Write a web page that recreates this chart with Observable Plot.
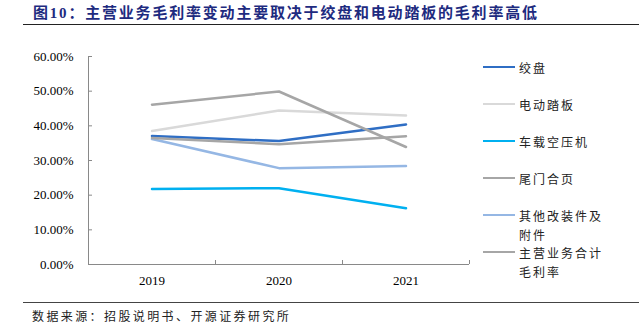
<!DOCTYPE html>
<html>
<head>
<meta charset="utf-8">
<script src="https://cdn.jsdelivr.net/npm/d3@7"></script>
<script src="https://cdn.jsdelivr.net/npm/@observablehq/plot@0.6"></script>
<style>
  body { margin: 0; background: #fff; }
  #wrap { position: relative; width: 639px; height: 332px; overflow: hidden; background: #fff; }
  #title { position: absolute; left: 33px; top: 3px; font-family: "Liberation Serif", "Noto Sans CJK SC", serif; font-weight: bold; font-size: 15px; letter-spacing: 1.8px; color: #1e2b7f; white-space: nowrap; line-height: 20px; }
  #topline { position: absolute; left: 23px; right: 0; top: 24px; height: 0; border-top: 1.5px solid #222; }
  #botline { position: absolute; left: 23px; right: 0; top: 302px; height: 0; border-top: 1.5px solid #444; }
  #source { position: absolute; left: 32px; top: 307px; font-family: "Noto Sans CJK SC", sans-serif; font-size: 12px; letter-spacing: 2.4px; color: #222; line-height: 18px; white-space: nowrap; }
  #legend { position: absolute; left: 483px; top: 57.5px; font-family: "Noto Sans CJK SC", sans-serif; font-size: 12px; letter-spacing: 2px; color: #222; }
  .item { display: flex; align-items: flex-start; height: 37px; }
  .sw { width: 32px; height: 0; border-top: 2.5px solid; margin-top: 8.5px; margin-right: 4px; flex: none; }
  .lab { width: 90px; line-height: 19px; }
  #chart { position: absolute; left: 0; top: 0; }
</style>
</head>
<body>
<div id="wrap">
  <div id="chart"></div>
  <div id="title">图10：主营业务毛利率变动主要取决于绞盘和电动踏板的毛利率高低</div>
  <div id="topline"></div>
  <div id="legend"></div>
  <div id="botline"></div>
  <div id="source">数据来源：招股说明书、开源证券研究所</div>
</div>
<script>
const years = [2019, 2020, 2021];
const series = ["绞盘", "电动踏板", "车载空压机", "尾门合页", "其他改装件及附件", "主营业务合计毛利率"];
const winch = [37.1, 35.6, 40.4];
const pedal = [38.5, 44.4, 43.0];
const compressor = [21.8, 22.0, 16.2];
const hinge = [46.1, 49.9, 33.9];
const others = [36.2, 27.8, 28.4];
const total = [36.5, 34.7, 37.0];
const colors = ["#2f6ec4", "#d9d9d9", "#00b0f0", "#a6a6a6", "#95b7e4", "#a6a6a6"];
const yTicks = [0, 10, 20, 30, 40, 50, 60];
const xBoundaries = [2019.5, 2020.5, 2021.5];

const values = [winch, pedal, compressor, hinge, others, total];
const rows = [];
series.forEach((s, i) => years.forEach((y, j) => rows.push({series: s, year: y, value: values[i][j]})));

const axisColor = "#898989";
const chart = Plot.plot({
  width: 639,
  height: 332,
  marginLeft: 88,
  marginRight: 170,
  marginTop: 56,
  marginBottom: 68,
  style: {fontFamily: "Liberation Serif, serif", fontSize: "13px", color: "#000", background: "transparent", overflow: "visible"},
  x: {type: "linear", domain: [2018.5, 2021.5], ticks: years, tickFormat: d => String(d), tickSize: 0, tickPadding: 11, label: null},
  y: {domain: [0, 60], ticks: yTicks, tickFormat: d => d.toFixed(2) + "%", tickSize: 0, tickPadding: 15, label: null},
  color: {domain: series, range: colors},
  marks: [
    Plot.ruleY(yTicks, {x1: 2018.5, x2: 2018.5, insetRight: -4, stroke: axisColor}),
    Plot.ruleX(xBoundaries, {y1: 0, y2: 0, insetBottom: 4, stroke: axisColor}),
    Plot.ruleX([2018.5], {y1: 0, y2: 60, stroke: axisColor}),
    Plot.ruleY([0], {x1: 2018.5, x2: 2021.5, stroke: axisColor}),
    Plot.line(rows, {x: "year", y: "value", z: "series", stroke: "series", strokeWidth: 2.5})
  ]
});
document.getElementById("chart").appendChild(chart);

const legend = document.getElementById("legend");
series.forEach((s, i) => {
  const item = document.createElement("div");
  item.className = "item";
  const sw = document.createElement("div");
  sw.className = "sw";
  sw.style.borderTopColor = colors[i];
  const lab = document.createElement("div");
  lab.className = "lab";
  lab.textContent = s;
  item.appendChild(sw);
  item.appendChild(lab);
  legend.appendChild(item);
});
</script>
</body>
</html>
